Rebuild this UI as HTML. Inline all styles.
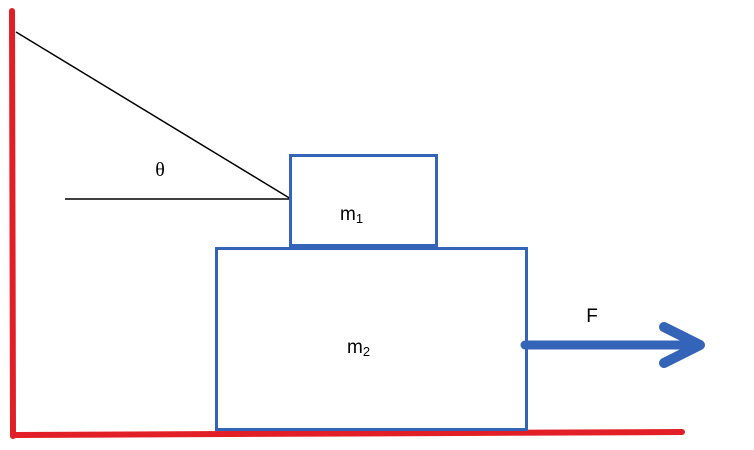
<!DOCTYPE html>
<html><head><style>html,body{margin:0;padding:0;background:#fff;}svg{display:block}</style></head>
<body>
<svg width="754" height="450" viewBox="0 0 754 450" xmlns="http://www.w3.org/2000/svg">
<line x1="12" y1="11" x2="13" y2="436" stroke="#e21f26" stroke-width="6" stroke-linecap="round"/>
<line x1="16" y1="435" x2="682" y2="432" stroke="#e21f26" stroke-width="6" stroke-linecap="round"/>
<line x1="16" y1="32" x2="291" y2="199" stroke="#000" stroke-width="1.5"/>
<line x1="65" y1="199" x2="291" y2="199" stroke="#000" stroke-width="1.5"/>
<text x="160" y="176" font-family="Liberation Serif, serif" font-size="20" text-anchor="middle">θ</text>
<rect x="290.5" y="155.5" width="146" height="90" fill="none" stroke="#3464b8" stroke-width="3"/>
<rect x="216.5" y="248.5" width="310" height="181" fill="none" stroke="#3464b8" stroke-width="3"/>
<text x="340" y="220" font-family="Liberation Sans, sans-serif" font-size="19">m<tspan font-size="13" dy="3">1</tspan></text>
<text x="347" y="353" font-family="Liberation Sans, sans-serif" font-size="19">m<tspan font-size="13" dy="3">2</tspan></text>
<line x1="525" y1="345" x2="698" y2="345" stroke="#3464b8" stroke-width="9" stroke-linecap="round"/>
<polyline points="664,327 700,345 664,363" fill="none" stroke="#3464b8" stroke-width="10" stroke-linecap="round" stroke-linejoin="round"/>
<text x="592" y="322" font-family="Liberation Sans, sans-serif" font-size="19" text-anchor="middle">F</text>
</svg>
</body></html>
